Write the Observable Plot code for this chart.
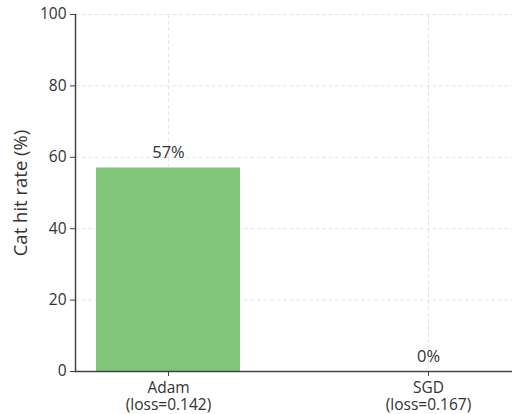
<!DOCTYPE html>
<html><head><meta charset="utf-8">
<script src="https://cdn.jsdelivr.net/npm/d3@7"></script>
<script src="https://cdn.jsdelivr.net/npm/@observablehq/plot@0.6"></script>
<style>body{margin:0;background:#fff}</style>
</head><body><div id="chart"></div>
<script>
const optimizers = ["Adam", "SGD"];
const losses = [0.142, 0.167];
const hitRates = [57, 0];
const yTicks = [0, 20, 40, 60, 80, 100];
const yLabel = "Cat hit rate (%)";

const data = optimizers.map((o, i) => ({opt: o, loss: losses[i], rate: hitRates[i]}));
const lossOf = Object.fromEntries(data.map(d => [d.opt, d.loss]));

const chart = Plot.plot({
  width: 512, height: 414,
  marginLeft: 75, marginRight: 0, marginTop: 14, marginBottom: 43,
  style: {fontFamily: "'Open Sans', sans-serif", fontSize: "15px", color: "#333", background: "#fff"},
  x: {type: "band", domain: optimizers, range: [75, 520], paddingInner: 0.448, paddingOuter: 0.0765},
  y: {domain: [0, 100]},
  marks: [
    Plot.gridY(yTicks, {stroke: "#e4e4ec", strokeOpacity: 1, strokeDasharray: "4,2.5"}),
    Plot.gridX(optimizers, {stroke: "#e4e4ec", strokeOpacity: 1, strokeDasharray: "4,2.5"}),
    Plot.barY(data, {x: "opt", y: "rate", fill: "#80c57a"}),
    Plot.text(data, {x: "opt", y: "rate", text: d => d.rate + "%", dy: -15, fontSize: 16.5, fill: "#333"}),
    Plot.axisY(yTicks, {tickSize: 5, tickPadding: 4, stroke: "#444", label: null, fontSize: 15.5, fill: "#333"}),
    Plot.text([yLabel], {frameAnchor: "left", textAnchor: "middle", dx: -54, rotate: -90, fontSize: 18.5, fill: "#333", text: d => d}),
    Plot.axisX({tickSize: 5, tickPadding: 4, stroke: "#444", label: null, lineHeight: 1.1, fontSize: 15.5, fill: "#333",
      tickFormat: o => `${o}\n(loss=${lossOf[o].toFixed(3)})`}),
    Plot.frame({anchor: "left", stroke: "#444", strokeWidth: 1.5}),
    Plot.frame({anchor: "bottom", stroke: "#444", strokeWidth: 1.5})
  ]
});
document.getElementById("chart").append(chart);
</script>
</body></html>
